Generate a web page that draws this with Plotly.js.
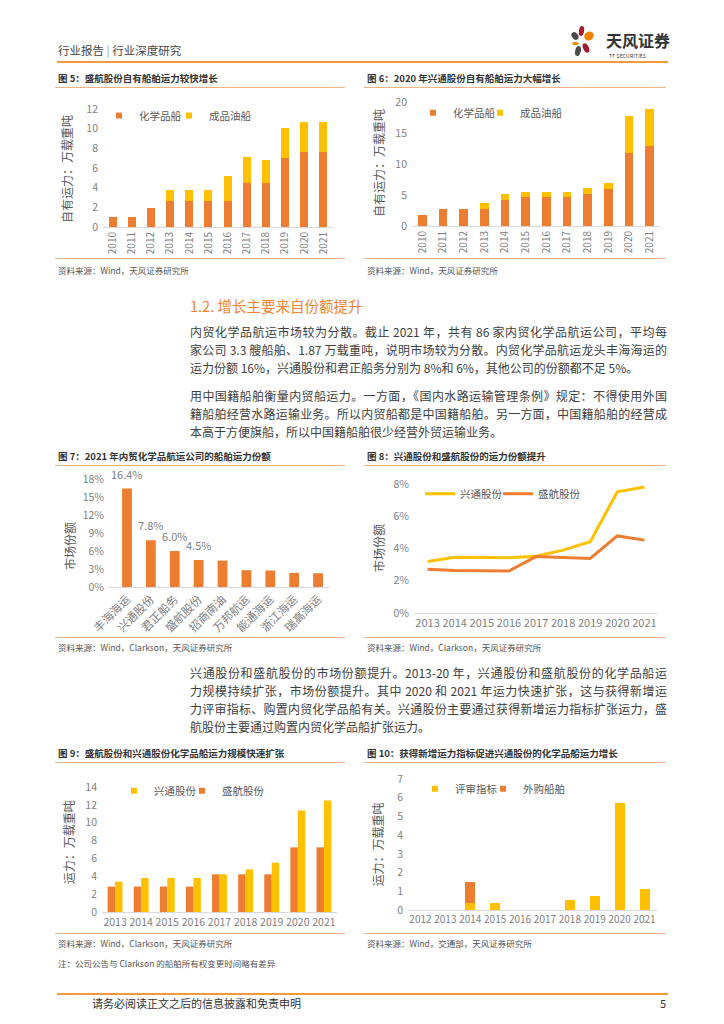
<!DOCTYPE html>
<html><head><meta charset="utf-8">
<script src="https://cdn.plot.ly/plotly-3.0.1.min.js"></script>
<style>
body{margin:0;width:724px;height:1024px;position:relative;background:#fff;font-family:"Noto Sans CJK SC","Noto Sans",sans-serif;overflow:hidden}
.ftitle{position:absolute;font-size:9.5px;font-weight:bold;color:#333;line-height:12px;white-space:nowrap}
.src{position:absolute;font-size:8.5px;color:#555;white-space:nowrap;line-height:10px}
.hl{position:absolute;height:1px;background:#F4B183}
.ln{position:absolute;left:190px;width:477px;height:18px;line-height:18px;font-size:12px;color:#404040;text-align:justify;text-align-last:justify}
.ln.last{text-align-last:left}
.chart{position:absolute}
</style></head>
<body>
<!-- header -->
<div style="position:absolute;left:58px;top:42px;font-size:11.5px;color:#444;line-height:16px;white-space:nowrap">行业报告 <span style="color:#999">|</span> 行业深度研究</div>
<div style="position:absolute;left:57px;top:61px;width:611px;height:2px;background:#F29B38"></div>
<svg style="position:absolute;left:566px;top:24px" width="34" height="34" viewBox="0 0 34 34">
  <ellipse cx="15.5" cy="7" rx="2.6" ry="5" fill="#A3192F" transform="rotate(8 15.5 7)"/>
  <ellipse cx="23" cy="12" rx="5" ry="4.3" fill="#F08300" transform="rotate(-35 23 12)"/>
  <ellipse cx="9" cy="12" rx="3" ry="4.2" fill="#4A4A4A" transform="rotate(-40 9 12)"/>
  <ellipse cx="9.5" cy="19.5" rx="3.3" ry="1.6" fill="#F08300"/>
  <ellipse cx="12" cy="27" rx="2.8" ry="5" fill="#4A4A4A" transform="rotate(15 12 27)"/>
  <ellipse cx="20" cy="24" rx="2.8" ry="5" fill="#A3192F" transform="rotate(-25 20 24)"/>
</svg>
<div style="position:absolute;left:606px;top:31px;font-size:16px;font-weight:bold;color:#333;line-height:19px;white-space:nowrap">天风证券</div>
<div style="position:absolute;left:609px;top:53px;font-size:5px;color:#333;line-height:6px;white-space:nowrap;letter-spacing:0.2px">TF SECURITIES</div>

<!-- figure 5 / 6 -->
<div class="ftitle" style="left:58px;top:72px">图 5：盛航股份自有船舶运力较快增长</div>
<div class="hl" style="left:55px;top:87px;width:290px"></div>
<div class="hl" style="left:55px;top:258px;width:290px"></div>
<div class="src" style="left:58px;top:265px">资料来源：Wind，天风证券研究所</div>
<div class="ftitle" style="left:367px;top:72px">图 6：2020 年兴通股份自有船舶运力大幅增长</div>
<div class="hl" style="left:364px;top:87px;width:302px"></div>
<div class="hl" style="left:364px;top:258px;width:302px"></div>
<div class="src" style="left:367px;top:265px">资料来源：Wind，天风证券研究所</div>
<div id="c5" class="chart"></div>
<div id="c6" class="chart"></div>

<!-- section -->
<div style="position:absolute;left:190px;top:297px;font-size:14.5px;color:#EE8433;line-height:18px;white-space:nowrap">1.2. 增长主要来自份额提升</div>
<div class="ln" style="top:323px">内贸化学品航运市场较为分散。截止 2021 年，共有 86 家内贸化学品航运公司，平均每</div>
<div class="ln" style="top:341px">家公司 3.3 艘船舶、1.87 万载重吨，说明市场较为分散。内贸化学品航运龙头丰海海运的</div>
<div class="ln last" style="top:359px">运力份额 16%，兴通股份和君正船务分别为 8%和 6%，其他公司的份额都不足 5%。</div>
<div class="ln" style="top:387px">用中国籍船舶衡量内贸船运力。一方面，《国内水路运输管理条例》规定：不得使用外国</div>
<div class="ln" style="top:405px">籍船舶经营水路运输业务。所以内贸船都是中国籍船舶。另一方面，中国籍船舶的经营成</div>
<div class="ln last" style="top:423px">本高于方便旗船，所以中国籍船舶很少经营外贸运输业务。</div>

<!-- figure 7 / 8 -->
<div class="ftitle" style="left:58px;top:450px">图 7：2021 年内贸化学品航运公司的船舶运力份额</div>
<div class="hl" style="left:55px;top:465px;width:290px"></div>
<div class="hl" style="left:55px;top:637px;width:290px"></div>
<div class="src" style="left:58px;top:642px">资料来源：Wind，Clarkson，天风证券研究所</div>
<div class="ftitle" style="left:367px;top:450px">图 8：兴通股份和盛航股份的运力份额提升</div>
<div class="hl" style="left:364px;top:465px;width:302px"></div>
<div class="hl" style="left:364px;top:637px;width:302px"></div>
<div class="src" style="left:367px;top:642px">资料来源：Wind，Clarkson，天风证券研究所</div>
<div id="c7" class="chart"></div>
<div id="c8" class="chart"></div>

<div class="ln" style="top:664px">兴通股份和盛航股份的市场份额提升。2013-20 年，兴通股份和盛航股份的化学品船运</div>
<div class="ln" style="top:682px">力规模持续扩张，市场份额提升。其中 2020 和 2021 年运力快速扩张，这与获得新增运</div>
<div class="ln" style="top:700px">力评审指标、购置内贸化学品船有关。兴通股份主要通过获得新增运力指标扩张运力，盛</div>
<div class="ln last" style="top:718px">航股份主要通过购置内贸化学品船扩张运力。</div>

<!-- figure 9 / 10 -->
<div class="ftitle" style="left:58px;top:747px">图 9：盛航股份和兴通股份化学品船运力规模快速扩张</div>
<div class="hl" style="left:55px;top:762px;width:290px"></div>
<div class="hl" style="left:55px;top:933px;width:290px"></div>
<div class="src" style="left:58px;top:938px">资料来源：Wind，Clarkson，天风证券研究所</div>
<div class="src" style="left:58px;top:958px">注：公司公告与 Clarkson 的船舶所有权变更时间略有差异</div>
<div class="ftitle" style="left:367px;top:747px">图 10：获得新增运力指标促进兴通股份的化学品船运力增长</div>
<div class="hl" style="left:364px;top:762px;width:302px"></div>
<div class="hl" style="left:364px;top:933px;width:302px"></div>
<div class="src" style="left:367px;top:938px">资料来源：Wind，交通部，天风证券研究所</div>
<div id="c9" class="chart"></div>
<div id="c10" class="chart"></div>

<!-- footer -->
<div style="position:absolute;left:57px;top:993px;width:611px;height:2px;background:#F29B38"></div>
<div style="position:absolute;left:92px;top:996px;font-size:11px;color:#333;line-height:14px;white-space:nowrap">请务必阅读正文之后的信息披露和免责申明</div>
<div style="position:absolute;left:660px;top:996px;font-size:11px;color:#333;line-height:14px">5</div>

<script>
// ---------- data ----------
const years12 = ['2010','2011','2012','2013','2014','2015','2016','2017','2018','2019','2020','2021'];
const shChem = [1.0,1.0,1.9,2.6,2.6,2.6,2.6,4.5,4.5,7.05,7.6,7.6];
const shOil  = [0,0,0,1.2,1.2,1.2,2.6,2.6,2.3,3.0,3.05,3.05];
const xtChem = [1.83,2.77,2.77,2.77,4.24,4.66,4.66,4.66,5.18,5.97,11.78,12.88];
const xtOil  = [0,0,0,0.9,0.9,0.9,0.9,0.9,0.9,0.9,5.9,6.0];

const companies = ['丰海海运','兴通股份','君正船务','盛航股份','招商南油','万邦航运','能通海运','浙江海运','瑞高海运'];
const share2021 = [16.4,7.8,6.0,4.5,4.4,2.8,2.75,2.35,2.3];
const shareLabels = ['16.4%','7.8%','6.0%','4.5%','','','','',''];
const pctTicks7 = [0,3,6,9,12,15,18];
const pctText7 = ['0%','3%','6%','9%','12%','15%','18%'];

const years9 = ['2013','2014','2015','2016','2017','2018','2019','2020','2021'];
const xtShare = [3.2,3.46,3.44,3.42,3.52,3.9,4.42,7.52,7.82];
const shShare = [2.72,2.64,2.62,2.6,3.5,3.44,3.38,4.78,4.52];
const pctTicks8 = [0,2,4,6,8];
const pctText8 = ['0%','2%','4%','6%','8%'];

const shCap = [2.85,2.85,2.85,2.85,4.22,4.22,4.22,7.24,7.24];
const xtCap = [3.4,3.81,3.81,3.81,4.22,4.77,5.52,11.36,12.49];

const years10 = ['2012','2013','2014','2015','2016','2017','2018','2019','2020','2021'];
const review = [0,0,0.37,0.4,0,0,0.53,0.76,5.73,1.14];
const bought = [0,0,1.11,0,0,0,0,0,0,0];

// ---------- styles ----------
const ORANGE = '#ED7D31', YELLOW = '#FFC000';
const FONT = 'Noto Sans CJK SC, Noto Sans, sans-serif';
const TICK = '#7F7F7F', TITLE = '#595959';

const G = {
  c5: {box:{l:50,t:90,w:300,h:168},  plot:{x0:103,x1:333,y0:101,y1:227}},
  c6: {box:{l:360,t:90,w:310,h:168}, plot:{x0:412,x1:660,y0:98,y1:226}},
  c7: {box:{l:50,t:467,w:300,h:170}, plot:{x0:109,x1:330,y0:479,y1:587}},
  c8: {box:{l:360,t:467,w:310,h:170},plot:{x0:414,x1:658,y0:480,y1:613}},
  c9: {box:{l:50,t:764,w:300,h:169}, plot:{x0:102,x1:337,y0:776,y1:912}},
  c10:{box:{l:360,t:764,w:310,h:169},plot:{x0:408,x1:657,y0:774,y1:910}}
};
function px(g, X, Y){
  const p = g.plot;
  return {x:(X-p.x0)/(p.x1-p.x0), y:(p.y1-Y)/(p.y1-p.y0)};
}
function base(id, yr, dtick, tickvals, ticktext){
  const g = G[id], b = g.box, p = g.plot;
  const el = document.getElementById(id);
  el.style.left=b.l+'px'; el.style.top=b.t+'px'; el.style.width=b.w+'px'; el.style.height=b.h+'px';
  const ya = {range:yr, showline:false, showgrid:false, zeroline:false, ticks:'', fixedrange:true,
              tickfont:{family:FONT,size:10.5,color:TICK}, ticklabelstandoff:4};
  if (tickvals) { ya.tickmode='array'; ya.tickvals=tickvals; ya.ticktext=ticktext; }
  else { ya.dtick=dtick; ya.tick0=0; }
  return {
    width:b.w, height:b.h,
    margin:{l:p.x0-b.l, r:b.l+b.w-p.x1, t:p.y0-b.t, b:b.t+b.h-p.y1, pad:0},
    paper_bgcolor:'rgba(0,0,0,0)', plot_bgcolor:'rgba(0,0,0,0)',
    font:{family:FONT,size:10,color:TICK},
    xaxis:{type:'category', showline:true, linecolor:'#D9D9D9', linewidth:1, ticks:'', showgrid:false, zeroline:false,
           fixedrange:true, tickfont:{family:FONT,size:10,color:TICK}},
    yaxis:ya,
    annotations:[],
    showlegend:true
  };
}
function ytitle(id, text, X, Y){
  const q = px(G[id], X, Y);
  return {text:text, xref:'paper', yref:'paper', x:q.x, y:q.y, xanchor:'center', yanchor:'middle',
          textangle:-90, showarrow:false, font:{family:FONT,size:12,color:TITLE}};
}
// legend whose left edge is at page pixel X (symbol centre at X+20, text at X+40)
function leg(id, leftX, Y){
  const q = px(G[id], leftX, Y);
  return {orientation:'h', x:q.x, y:q.y, xanchor:'left', yanchor:'middle', bgcolor:'rgba(0,0,0,0)',
          borderwidth:0, font:{family:FONT,size:10.5,color:TITLE}, itemwidth:30, tracegroupgap:0};
}
// legend-only key (no data drawn) with a small square like the original
function key(name, color, legendId){
  return {type:'scatter', mode:'markers', x:[null], y:[null], name:name, legend:legendId,
          marker:{symbol:'square', size:6, color:color}, hoverinfo:'skip'};
}
const cfg = {staticPlot:true, displayModeBar:false};

// ---------- figure 5 ----------
(function(){
  const L = base('c5',[0,12],2);
  L.barmode='stack'; L.bargap=0.58;
  L.xaxis.tickangle=-90;
  L.legend = leg('c5',99,108); L.legend2 = leg('c5',169,108);
  L.annotations.push(ytitle('c5','自有运力：万载重吨',67,165));
  Plotly.newPlot('c5',[
    {type:'bar',name:'化学品船',x:years12,y:shChem,marker:{color:ORANGE},showlegend:false},
    {type:'bar',name:'成品油船',x:years12,y:shOil,marker:{color:YELLOW},showlegend:false},
    key('化学品船',ORANGE,'legend'), key('成品油船',YELLOW,'legend2')
  ],L,cfg);
})();

// ---------- figure 6 ----------
(function(){
  const L = base('c6',[0,20],5);
  L.barmode='stack'; L.bargap=0.58;
  L.xaxis.tickangle=-90;
  L.legend = leg('c6',413,109); L.legend2 = leg('c6',480,109);
  L.annotations.push(ytitle('c6','自有运力：万载重吨',378,161));
  Plotly.newPlot('c6',[
    {type:'bar',name:'化学品船',x:years12,y:xtChem,marker:{color:ORANGE},showlegend:false},
    {type:'bar',name:'成品油船',x:years12,y:xtOil,marker:{color:YELLOW},showlegend:false},
    key('化学品船',ORANGE,'legend'), key('成品油船',YELLOW,'legend2')
  ],L,cfg);
})();

// ---------- figure 7 ----------
(function(){
  const L = base('c7',[0,18],null,pctTicks7,pctText7);
  L.bargap=0.59; L.showlegend=false;
  L.xaxis.tickangle=-45; L.xaxis.tickfont.size=11.5;
  L.annotations.push(ytitle('c7','市场份额',69,546));
  companies.forEach((c,i)=>{
    if (shareLabels[i]) L.annotations.push({x:c, y:share2021[i], xref:'x', yref:'y', text:shareLabels[i],
      showarrow:false, yanchor:'bottom', yshift:5, font:{family:FONT,size:11,color:TICK}});
  });
  Plotly.newPlot('c7',[
    {type:'bar',x:companies,y:share2021,marker:{color:ORANGE}}
  ],L,cfg);
})();

// ---------- figure 8 ----------
(function(){
  const L = base('c8',[0,8],null,pctTicks8,pctText8);
  L.xaxis.range=[-0.5,8.5]; L.xaxis.tickfont.size=11; L.xaxis.tickangle=0;
  L.legend = leg('c8',420,490); L.legend2 = leg('c8',498,490);
  L.annotations.push(ytitle('c8','市场份额',378,546));
  Plotly.newPlot('c8',[
    {type:'scatter',mode:'lines',name:'兴通股份',x:years9,y:xtShare,line:{color:YELLOW,width:3},legend:'legend'},
    {type:'scatter',mode:'lines',name:'盛航股份',x:years9,y:shShare,line:{color:ORANGE,width:3},legend:'legend2'}
  ],L,cfg);
})();

// ---------- figure 9 ----------
(function(){
  const L = base('c9',[0,14],2);
  L.barmode='group'; L.bargap=0.43; L.bargroupgap=0;
  L.xaxis.tickfont.size=10.5; L.xaxis.tickangle=0;
  L.legend = leg('c9',114,780); L.legend2 = leg('c9',182,780);
  L.annotations.push(ytitle('c9','运力：万载重吨',68,836));
  Plotly.newPlot('c9',[
    {type:'bar',name:'盛航股份',x:years9,y:shCap,marker:{color:ORANGE},showlegend:false},
    {type:'bar',name:'兴通股份',x:years9,y:xtCap,marker:{color:YELLOW},showlegend:false},
    key('兴通股份',YELLOW,'legend'), key('盛航股份',ORANGE,'legend2')
  ],L,cfg);
})();

// ---------- figure 10 ----------
(function(){
  const L = base('c10',[0,7],1);
  L.barmode='stack'; L.bargap=0.6;
  L.xaxis.tickfont.size=10; L.xaxis.tickangle=0;
  L.legend = leg('c10',415,784); L.legend2 = leg('c10',483,784);
  L.annotations.push(ytitle('c10','运力：万载重吨',377,842));
  Plotly.newPlot('c10',[
    {type:'bar',name:'评审指标',x:years10,y:review,marker:{color:YELLOW},showlegend:false},
    {type:'bar',name:'外购船舶',x:years10,y:bought,marker:{color:ORANGE},showlegend:false},
    key('评审指标',YELLOW,'legend'), key('外购船舶',ORANGE,'legend2')
  ],L,cfg);
})();
</script>
</body></html>
